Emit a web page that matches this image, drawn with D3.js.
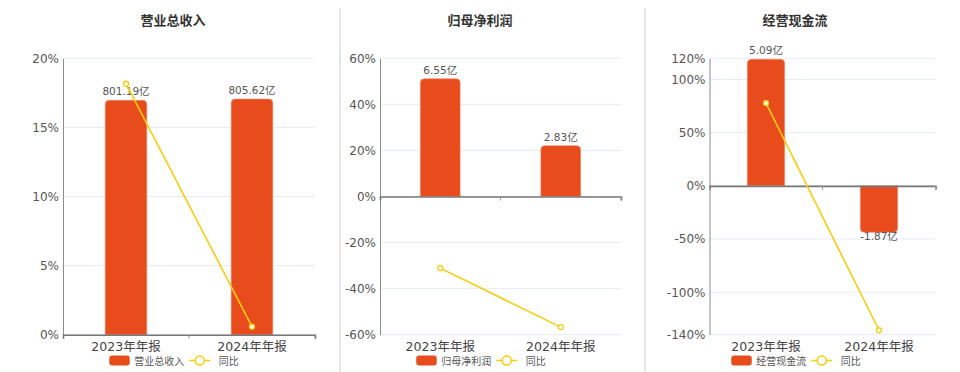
<!DOCTYPE html>
<html><head><meta charset="utf-8">
<script src="https://cdn.jsdelivr.net/npm/d3@7"></script>
<style>
html,body{margin:0;padding:0;background:#fff;}
svg{display:block;font-family:"DejaVu Sans","Noto Sans CJK SC",sans-serif;}
</style></head>
<body><svg id="c" width="960" height="372"></svg>
<script>
const categories = ["2023年年报", "2024年年报"];
const titles = ["营业总收入", "归母净利润", "经营现金流"];
const revenueValues = [801.19, 805.62];
const revenueYoY = [18.16, 0.58];
const profitValues = [6.55, 2.83];
const profitYoY = [-31.1, -56.7];
const cashValues = [5.09, -1.87];
const cashYoY = [77.9, -135.8];
const revenueTicks = [0, 5, 10, 15, 20];
const profitTicks = [-60, -40, -20, 0, 20, 40, 60];
const cashTicks = [-140, -100, -50, 0, 50, 100, 120];
const valueLabels = [["801.19亿", "805.62亿"], ["6.55亿", "2.83亿"], ["5.09亿", "-1.87亿"]];

const panels = [
  {title: titles[0], values: revenueValues, yoy: revenueYoY, ticks: revenueTicks, labels: valueLabels[0],
   left: 63, right: 315, cx: 173, barDomain: [0, 945]},
  {title: titles[1], values: profitValues, yoy: profitYoY, ticks: profitTicks, labels: valueLabels[1],
   left: 380, right: 621, cx: 480, barDomain: [-7.69, 7.69]},
  {title: titles[2], values: cashValues, yoy: cashYoY, ticks: cashTicks, labels: valueLabels[2],
   left: 709.5, right: 935.5, cx: 795, barDomain: [-5.99, 5.13]}
];
const TOP = 58.3, BOTTOM = 334.7;
const BAR = "#E84C1D", LINE = "#F5CE0F";
const svg = d3.select("#c");

// dividers
[340, 645].forEach(x => svg.append("line").attr("x1", x).attr("x2", x).attr("y1", 8).attr("y2", 372)
  .attr("stroke", "#dcdcdc").attr("stroke-width", 1.5));

function barPath(x, w, y0, y1, r) {
  const h = Math.abs(y1 - y0);
  r = Math.min(r, h / 2, w / 2);
  if (y1 < y0) {
    return `M${x},${y0}V${y1 + r}Q${x},${y1} ${x + r},${y1}H${x + w - r}Q${x + w},${y1} ${x + w},${y1 + r}V${y0}Z`;
  } else {
    return `M${x},${y0}V${y1 - r}Q${x},${y1} ${x + r},${y1}H${x + w - r}Q${x + w},${y1} ${x + w},${y1 - r}V${y0}Z`;
  }
}

panels.forEach(p => {
  const g = svg.append("g");
  const x = d3.scaleBand().domain(categories).range([p.left, p.right]);
  const y = d3.scaleLinear().domain(d3.extent(p.ticks)).range([BOTTOM, TOP]);
  const yb = d3.scaleLinear().domain(p.barDomain).range([BOTTOM, TOP]);
  const bw = x.bandwidth() * 0.33;

  g.append("text").attr("x", p.cx).attr("y", 25).attr("text-anchor", "middle")
    .attr("font-size", 13).attr("font-weight", "bold").attr("fill", "#333").text(p.title);

  g.selectAll(".grid").data(p.ticks).join("line")
    .attr("x1", p.left).attr("x2", p.right).attr("y1", d => y(d)).attr("y2", d => y(d))
    .attr("stroke", "#e6ebf4").attr("stroke-width", 1);

  const ya = d3.axisLeft(y).tickValues(p.ticks).tickFormat(d => d + "%").tickSize(0).tickPadding(4);
  const yg = g.append("g").attr("transform", `translate(${p.left},0)`).call(ya);
  yg.select(".domain").attr("stroke", "#8c8c8c");
  yg.selectAll("text").attr("font-size", 12).attr("fill", "#555").attr("font-family", "DejaVu Sans");

  g.selectAll(".bar").data(p.values).join("path")
    .attr("d", (d, i) => barPath(x(categories[i]) + x.bandwidth() / 2 - bw / 2, bw, yb(0), yb(d), 4))
    .attr("fill", BAR).attr("stroke", "#f08a6a").attr("stroke-width", 0.6);

  const xa = d3.axisBottom(x).tickSize(4).tickFormat("");
  const xg = g.append("g").attr("transform", `translate(0,${y(0)})`).call(xa);
  xg.select(".domain").attr("stroke", "#777").attr("stroke-width", 1.6);
  xg.selectAll(".tick").remove();
  xg.selectAll(".sep").data([x.step(), 2 * x.step()]).join("line")
    .attr("x1", d => p.left + d).attr("x2", d => p.left + d).attr("y1", 0).attr("y2", 4)
    .attr("stroke", "#999");

  g.selectAll(".cat").data(categories).join("text")
    .attr("x", d => x(d) + x.bandwidth() / 2).attr("y", 351).attr("text-anchor", "middle")
    .attr("font-size", 12.5).attr("fill", "#444").text(d => d);

  g.selectAll(".val").data(p.values).join("text")
    .attr("x", (d, i) => x(categories[i]) + x.bandwidth() / 2)
    .attr("y", d => d >= 0 ? yb(d) - 5 : yb(d) + 8)
    .attr("text-anchor", "middle").attr("font-size", 10.5).attr("fill", "#555")
    .text((d, i) => p.labels[i]);

  const line = d3.line().x((d, i) => x(categories[i]) + x.bandwidth() / 2).y(d => y(d));
  g.append("path").attr("d", line(p.yoy)).attr("fill", "none").attr("stroke", LINE).attr("stroke-width", 1.6);
  g.selectAll(".pt").data(p.yoy).join("circle")
    .attr("cx", (d, i) => x(categories[i]) + x.bandwidth() / 2).attr("cy", d => y(d)).attr("r", 2.5)
    .attr("fill", "#fff").attr("stroke", LINE).attr("stroke-width", 1.3);

  // legend
  const lg = g.append("g");
  const t1 = lg.append("text").attr("y", 364.5).attr("font-size", 10).attr("fill", "#555").text(p.title);
  const t1w = t1.node().getComputedTextLength();
  const t2 = lg.append("text").attr("y", 364.5).attr("font-size", 10).attr("fill", "#555").text("同比");
  const t2w = t2.node().getComputedTextLength();
  const total = 20.5 + 4.5 + t1w + 5 + 21 + 8.5 + t2w;
  const sx = p.cx + 1 - total / 2;
  lg.append("rect").attr("x", sx).attr("y", 355.5).attr("width", 20.5).attr("height", 10).attr("rx", 3).attr("fill", BAR);
  t1.attr("x", sx + 25);
  const lx = sx + 25 + t1w + 5;
  lg.append("line").attr("x1", lx).attr("x2", lx + 21).attr("y1", 360.5).attr("y2", 360.5).attr("stroke", LINE).attr("stroke-width", 1.5);
  lg.append("circle").attr("cx", lx + 10.5).attr("cy", 360.5).attr("r", 4.5).attr("fill", "#fff").attr("stroke", LINE).attr("stroke-width", 1.5);
  t2.attr("x", lx + 29.5);
});
</script></body></html>
